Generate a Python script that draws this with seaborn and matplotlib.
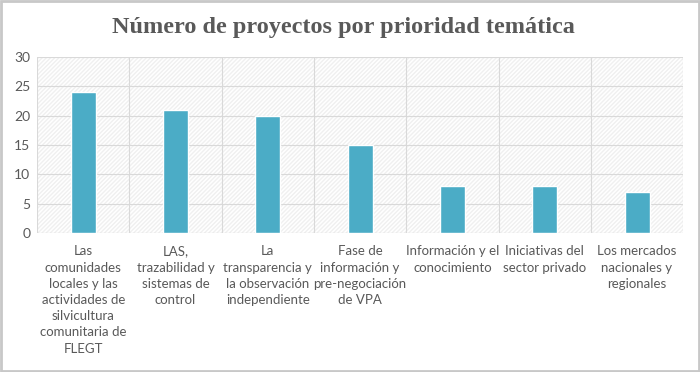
import numpy as np
import matplotlib
matplotlib.use('Agg')
from matplotlib import pyplot as plt
from matplotlib.patches import Rectangle
import pandas as pd
import seaborn as sns

# Datos del gráfico
categorias = [
    'Las\ncomunidades\nlocales y las\nactividades de\nsilvicultura\ncomunitaria de\nFLEGT',
    'LAS,\ntrazabilidad y\nsistemas de\ncontrol',
    'La\ntransparencia y\nla observación\nindependiente',
    'Fase de\ninformación y\npre-negociación\nde VPA',
    'Información y el\nconocimiento',
    'Iniciativas del\nsector privado',
    'Los mercados\nnacionales y\nregionales',
]
proyectos = [24, 21, 20, 15, 8, 8, 7]
titulo = 'Número de proyectos por prioridad temática'

sns.set_style('white')
plt.rcParams['font.family'] = ['Lato', 'DejaVu Sans']

df = pd.DataFrame({'categoria': categorias, 'proyectos': proyectos})

fig = plt.figure(figsize=(7, 3.72), dpi=100)
fig.patch.set_facecolor('white')
ax = fig.add_axes([0.053, 0.374, 0.923, 0.473])

# fondo rayado del área de trazado
ax.add_patch(Rectangle((0, 0), 1, 1, transform=ax.transAxes, facecolor='white',
                       edgecolor='#f0f0f0', hatch='////////', linewidth=0, zorder=0))

sns.barplot(data=df, x='categoria', y='proyectos', color='#4bacc6', width=0.27,
            saturation=1, ax=ax, zorder=3)

ax.set_ylim(0, 30)
ax.set_xlim(-0.5, len(categorias) - 0.5)
ax.set_yticks(range(0, 31, 5))
ax.set_xticks(np.arange(-0.5, len(categorias)), minor=True)
ax.grid(True, which='major', axis='y', color='#d9d9d9', linewidth=0.8, zorder=1)
ax.grid(True, which='minor', axis='x', color='#d9d9d9', linewidth=0.8, zorder=1)
ax.tick_params(axis='both', which='both', length=0, colors='#595959')
ax.tick_params(axis='y', labelsize=10, pad=5)
ax.tick_params(axis='x', labelsize=9.5, pad=9)
for lab in ax.get_xticklabels():
    lab.set_linespacing(1.42)
ax.set_xlabel('')
ax.set_ylabel('')
for s in ax.spines.values():
    s.set_visible(False)
ax.axhline(0, color='#d9d9d9', linewidth=0.8, zorder=2)

fig.text(0.49, 0.925, titulo, ha='center', va='center', fontsize=17.5,
         fontweight='bold', color='#595959',
         family=['Liberation Serif', 'DejaVu Serif'])

# marco de la figura
fig.patches.append(Rectangle((0.002, 0.003), 0.996, 0.994, transform=fig.transFigure,
                             fill=False, edgecolor='#c8c8c8', linewidth=2))

fig.savefig('out.png', dpi=100)
